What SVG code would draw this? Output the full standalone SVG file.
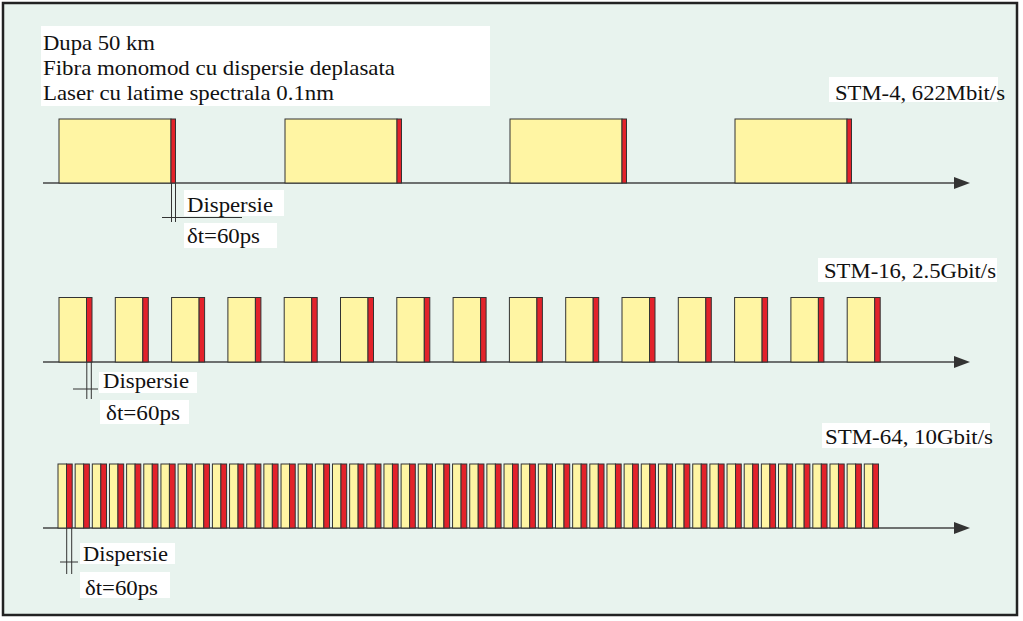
<svg xmlns="http://www.w3.org/2000/svg" xmlns:xlink="http://www.w3.org/1999/xlink" width="1023" height="621" viewBox="0 0 1023 621">
<style>
.t{font-family:"Liberation Serif","Times New Roman","DejaVu Serif",serif;font-size:21.5px;fill:#111}
.box{fill:#ffffff}
.y{fill:#FFF5A3;stroke:#333;stroke-width:1}
.r{fill:#E3222A;stroke:#333;stroke-width:1}
.ax{stroke:#444;stroke-width:1.5;fill:none}
.dl{stroke:#333;stroke-width:1;fill:none}
</style>
<defs>
<marker id="arr" markerUnits="userSpaceOnUse" markerWidth="18" markerHeight="14" refX="8" refY="6" orient="auto">
<path d="M0,0 L16,6 L0,12 Z" fill="#333"/>
</marker>
<g id="p4"><rect class="y" x="0" y="0" width="112" height="64"/><rect class="r" x="112" y="0" width="4.5" height="64"/></g>
<g id="p16"><rect class="y" x="0" y="0" width="27.5" height="64.5"/><rect class="r" x="27.5" y="0" width="5.5" height="64.5"/></g>
<g id="p64"><rect class="y" x="0" y="0" width="8.5" height="64"/><rect class="r" x="8.5" y="0" width="5.7" height="64"/></g>
</defs>
<rect x="0" y="0" width="1023" height="621" fill="#ffffff"/>
<rect x="3" y="3" width="1014" height="612" fill="#E8F3EE" stroke="#222" stroke-width="2.5"/>

<g id="info">
<rect class="box" x="41" y="26" width="449" height="80"/>
<text class="t" x="43" y="50" textLength="112" lengthAdjust="spacingAndGlyphs">Dupa 50 km</text>
<text class="t" x="43" y="75" textLength="352" lengthAdjust="spacingAndGlyphs">Fibra monomod cu dispersie deplasata</text>
<text class="t" x="43" y="100" textLength="291" lengthAdjust="spacingAndGlyphs">Laser cu latime spectrala 0.1nm</text>
</g>

<g id="connectors">
<line class="ax" x1="43" y1="183" x2="962" y2="183" marker-end="url(#arr)"/>
<line class="ax" x1="43" y1="362" x2="962" y2="362" marker-end="url(#arr)"/>
<line class="ax" x1="43" y1="528" x2="962" y2="528" marker-end="url(#arr)"/>
<path class="dl" d="M171.5,183 V222 M175.5,183 V222 M162,217.5 H242"/>
<path class="dl" d="M86.8,362 V399 M91.3,362 V399 M73,389 H98"/>
<path class="dl" d="M66.7,528 V574 M71.7,528 V574 M60,562 H78"/>
</g>

<g id="stm4">
<use xlink:href="#p4" x="59" y="119"/>
<use xlink:href="#p4" x="285" y="119"/>
<use xlink:href="#p4" x="510" y="119"/>
<use xlink:href="#p4" x="735" y="119"/>
<rect class="box" x="829" y="77" width="169" height="25"/>
<text class="t" x="835" y="100" textLength="170" lengthAdjust="spacingAndGlyphs">STM-4, 622Mbit/s</text>
</g>
<g id="stm4-dispersie">
<rect class="box" x="184" y="190" width="100" height="26"/>
<text class="t" x="187" y="212" textLength="86" lengthAdjust="spacingAndGlyphs">Dispersie</text>
<rect class="box" x="184" y="223" width="93" height="25"/>
<text class="t" x="187" y="243" textLength="73" lengthAdjust="spacingAndGlyphs">δt=60ps</text>
</g>

<g id="stm16">
<use xlink:href="#p16" x="59" y="297.5"/>
<use xlink:href="#p16" x="115.3" y="297.5"/>
<use xlink:href="#p16" x="171.6" y="297.5"/>
<use xlink:href="#p16" x="227.9" y="297.5"/>
<use xlink:href="#p16" x="284.2" y="297.5"/>
<use xlink:href="#p16" x="340.5" y="297.5"/>
<use xlink:href="#p16" x="396.8" y="297.5"/>
<use xlink:href="#p16" x="453.1" y="297.5"/>
<use xlink:href="#p16" x="509.4" y="297.5"/>
<use xlink:href="#p16" x="565.7" y="297.5"/>
<use xlink:href="#p16" x="622" y="297.5"/>
<use xlink:href="#p16" x="678.3" y="297.5"/>
<use xlink:href="#p16" x="734.6" y="297.5"/>
<use xlink:href="#p16" x="790.9" y="297.5"/>
<use xlink:href="#p16" x="847.2" y="297.5"/>
<rect class="box" x="818" y="258" width="179" height="24"/>
<text class="t" x="824" y="278" textLength="172" lengthAdjust="spacingAndGlyphs">STM-16, 2.5Gbit/s</text>
</g>
<g id="stm16-dispersie">
<rect class="box" x="99" y="372" width="98" height="21"/>
<text class="t" x="103" y="388" textLength="86" lengthAdjust="spacingAndGlyphs">Dispersie</text>
<rect class="box" x="100" y="400" width="89" height="24"/>
<text class="t" x="106" y="420" textLength="74" lengthAdjust="spacingAndGlyphs">δt=60ps</text>
</g>

<g id="stm64">
<use xlink:href="#p64" x="58" y="464"/>
<use xlink:href="#p64" x="75.16" y="464"/>
<use xlink:href="#p64" x="92.31" y="464"/>
<use xlink:href="#p64" x="109.47" y="464"/>
<use xlink:href="#p64" x="126.62" y="464"/>
<use xlink:href="#p64" x="143.78" y="464"/>
<use xlink:href="#p64" x="160.93" y="464"/>
<use xlink:href="#p64" x="178.09" y="464"/>
<use xlink:href="#p64" x="195.24" y="464"/>
<use xlink:href="#p64" x="212.4" y="464"/>
<use xlink:href="#p64" x="229.55" y="464"/>
<use xlink:href="#p64" x="246.71" y="464"/>
<use xlink:href="#p64" x="263.86" y="464"/>
<use xlink:href="#p64" x="281.02" y="464"/>
<use xlink:href="#p64" x="298.17" y="464"/>
<use xlink:href="#p64" x="315.33" y="464"/>
<use xlink:href="#p64" x="332.48" y="464"/>
<use xlink:href="#p64" x="349.64" y="464"/>
<use xlink:href="#p64" x="366.79" y="464"/>
<use xlink:href="#p64" x="383.95" y="464"/>
<use xlink:href="#p64" x="401.1" y="464"/>
<use xlink:href="#p64" x="418.26" y="464"/>
<use xlink:href="#p64" x="435.41" y="464"/>
<use xlink:href="#p64" x="452.57" y="464"/>
<use xlink:href="#p64" x="469.72" y="464"/>
<use xlink:href="#p64" x="486.88" y="464"/>
<use xlink:href="#p64" x="504.03" y="464"/>
<use xlink:href="#p64" x="521.19" y="464"/>
<use xlink:href="#p64" x="538.34" y="464"/>
<use xlink:href="#p64" x="555.5" y="464"/>
<use xlink:href="#p64" x="572.65" y="464"/>
<use xlink:href="#p64" x="589.81" y="464"/>
<use xlink:href="#p64" x="606.96" y="464"/>
<use xlink:href="#p64" x="624.12" y="464"/>
<use xlink:href="#p64" x="641.27" y="464"/>
<use xlink:href="#p64" x="658.43" y="464"/>
<use xlink:href="#p64" x="675.58" y="464"/>
<use xlink:href="#p64" x="692.74" y="464"/>
<use xlink:href="#p64" x="709.89" y="464"/>
<use xlink:href="#p64" x="727.05" y="464"/>
<use xlink:href="#p64" x="744.2" y="464"/>
<use xlink:href="#p64" x="761.36" y="464"/>
<use xlink:href="#p64" x="778.51" y="464"/>
<use xlink:href="#p64" x="795.67" y="464"/>
<use xlink:href="#p64" x="812.82" y="464"/>
<use xlink:href="#p64" x="829.98" y="464"/>
<use xlink:href="#p64" x="847.13" y="464"/>
<use xlink:href="#p64" x="864.29" y="464"/>
<rect class="box" x="822" y="423" width="168" height="25"/>
<text class="t" x="825" y="444" textLength="168" lengthAdjust="spacingAndGlyphs">STM-64, 10Gbit/s</text>
</g>
<g id="stm64-dispersie">
<rect class="box" x="80" y="543" width="95" height="21"/>
<text class="t" x="83" y="561" textLength="85" lengthAdjust="spacingAndGlyphs">Dispersie</text>
<rect class="box" x="80" y="572" width="90" height="26"/>
<text class="t" x="85" y="595" textLength="73" lengthAdjust="spacingAndGlyphs">δt=60ps</text>
</g>
</svg>
